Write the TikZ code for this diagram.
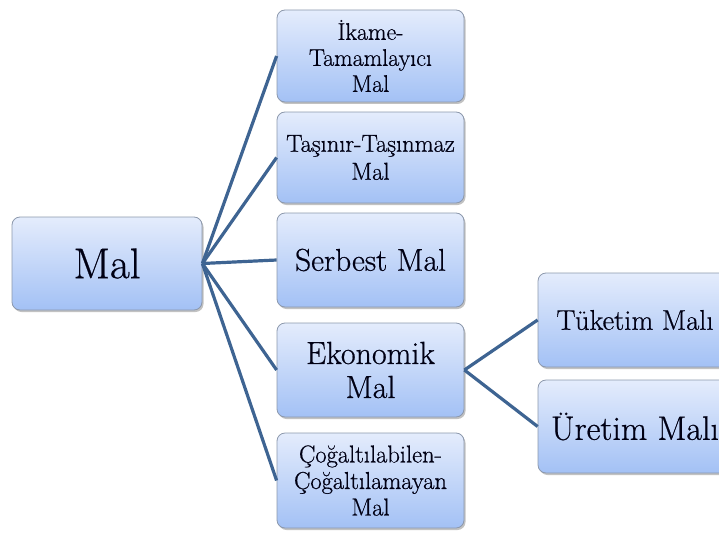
\documentclass[tikz,border=0pt]{standalone}
\usepackage{fontspec}
\newfontfamily\lmr{Latin Modern Roman}[FakeBold=0.6]
\usetikzlibrary{shadows}
\definecolor{boxtop}{RGB}{228,236,252}
\definecolor{boxbot}{RGB}{163,193,245}
\definecolor{boxedge}{RGB}{140,152,172}
\definecolor{linkc}{RGB}{62,100,146}
\tikzset{
  mbox/.style={rectangle, rounded corners=8pt, draw=boxedge, line width=0.8pt,
    top color=boxtop, bottom color=boxbot, inner sep=0pt, align=center,
    text=black!92!blue,
    drop shadow={shadow xshift=1.5pt, shadow yshift=-2pt, opacity=0.4, fill=black!60}},
  link/.style={draw=linkc, line width=3.2pt}
}
\newcommand{\fs}[2]{\lmr\fontsize{#1}{#2}\selectfont}
\begin{document}
\begin{tikzpicture}[x=1pt,y=-1pt]
\useasboundingbox (0,0) rectangle (719,532);
\clip (0,0) rectangle (719,532);
\node[mbox, minimum width=190pt, minimum height=93pt, font=\fs{43}{46}] (mal) at (107,263.5) {Mal};
\node[mbox, minimum width=187pt, minimum height=92pt, font=\fs{24}{26}] (ikame) at (370.5,56) {İkame-\\Tamamlayıcı\\Mal};
\node[mbox, minimum width=187pt, minimum height=91pt, font=\fs{24.5}{28}] (tasinir) at (370.5,157.5) {Taşınır-Taşınmaz\\Mal};
\node[mbox, minimum width=187pt, minimum height=94pt, font=\fs{31.5}{34}] (serbest) at (370.5,260) {Serbest Mal};
\node[mbox, minimum width=187pt, minimum height=94pt, font=\fs{32}{34}] (ekonomik) at (370.5,370) {Ekonomik\\Mal};
\node[mbox, minimum width=187pt, minimum height=95pt, font=\fs{24.5}{26.5}] (cogal) at (370.5,480.5) {Çoğaltılabilen-\\Çoğaltılamayan\\Mal};
\node[mbox, minimum width=194pt, minimum height=94pt, font=\fs{28.5}{30}] (tuketim) at (635,320) {Tüketim Malı};
\node[mbox, minimum width=194pt, minimum height=93pt, font=\fs{34}{36}] (uretim) at (635,426.5) {Üretim Malı};
\draw[link] (mal.east) -- (ikame.west);
\draw[link] (mal.east) -- (tasinir.west);
\draw[link] (mal.east) -- (serbest.west);
\draw[link] (mal.east) -- (ekonomik.west);
\draw[link] (mal.east) -- (cogal.west);
\draw[link] (ekonomik.east) -- (tuketim.west);
\draw[link] (ekonomik.east) -- (uretim.west);
\end{tikzpicture}
\end{document}
